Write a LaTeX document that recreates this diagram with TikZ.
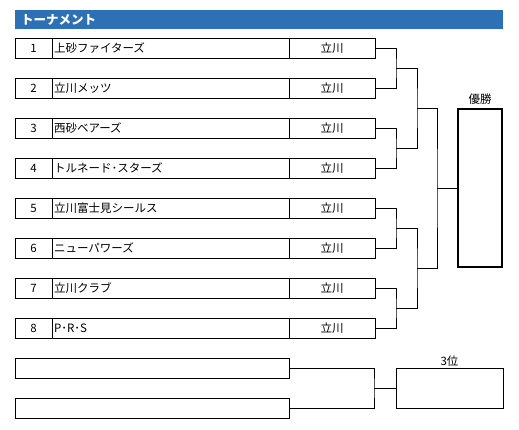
\documentclass[tikz,border=0pt]{standalone}
\usepackage{fontspec}
\newfontfamily\cjk{Noto Sans CJK JP}
\usetikzlibrary{positioning}
\definecolor{headblue}{RGB}{46,112,182}
\tikzset{
  cell/.style={draw, line width=0.8pt, minimum height=20pt, inner sep=0pt, outer sep=0pt,
    font=\cjk\fontsize{11.5}{12}\selectfont},
  numcell/.style={cell, minimum width=37pt},
  namecell/.style={cell, text width=233pt, inner xsep=2pt, align=left},
  schoolcell/.style={cell, minimum width=86pt},
  bracket/.style={line width=0.8pt},
  caption/.style={font=\cjk\fontsize{11.5}{12}\selectfont, inner sep=1pt}
}

\begin{document}
\begin{tikzpicture}[x=1pt,y=-1pt]
\useasboundingbox (0,0) rectangle (519,429);
% title bar
\node[fill=headblue, text=white, font=\cjk\bfseries\fontsize{12.5}{13}\selectfont,
  text width=476pt, inner xsep=6pt, inner ysep=0pt, minimum height=19pt, align=left,
  anchor=north west] (head) at (15,10) {トーナメント};
% entries
\foreach \i/\team in {1/上砂ファイターズ, 2/立川メッツ, 3/西砂ベアーズ, 4/トルネード･スターズ,
  5/立川富士見シールス, 6/ニューパワーズ, 7/立川クラブ, 8/P･R･S}{
  \pgfmathsetmacro\yy{38+40*(\i-1)}
  \node[numcell, anchor=north west] (n\i) at (15,\yy) {\i};
  \node[namecell, right=0pt of n\i] (t\i) {\team};
  \node[schoolcell, right=0pt of t\i] (s\i) {立川};
}
% bracket joins
\coordinate (a1) at (396,68);
\coordinate (a2) at (396,148);
\coordinate (a3) at (396,228);
\coordinate (a4) at (396,308);
\coordinate (b1) at (417,108);
\coordinate (b2) at (417,268);
\coordinate (c1) at (437,188);
\draw[bracket] (s1.east) -| (a1) |- (s2.east);
\draw[bracket] (s3.east) -| (a2) |- (s4.east);
\draw[bracket] (s5.east) -| (a3) |- (s6.east);
\draw[bracket] (s7.east) -| (a4) |- (s8.east);
\draw[bracket] (a1) -| (b1) |- (a2);
\draw[bracket] (a3) -| (b2) |- (a4);
\draw[bracket] (b1) -| (c1) |- (b2);
% winner
\node[draw, line width=2pt, minimum width=44pt, minimum height=158pt] (win) at (480,188) {};
\node[caption, above=2pt of win] (winlabel) {優勝};
\draw[bracket] (c1) -- (win.west);
% third place
\node[cell, minimum width=274pt, anchor=north west] (p1) at (15,358) {};
\node[cell, minimum width=274pt, anchor=north west] (p2) at (15,398) {};
\coordinate (d1) at (374,388);
\draw[bracket] (p1.east) -| (d1) |- (p2.east);
\node[cell, minimum width=107pt, minimum height=40pt, anchor=north west] (third) at (396,368) {};
\draw[bracket] (d1) -- (third.west);
\node[caption, above=0pt of third] (thirdlabel) {3位};
\end{tikzpicture}
\end{document}
